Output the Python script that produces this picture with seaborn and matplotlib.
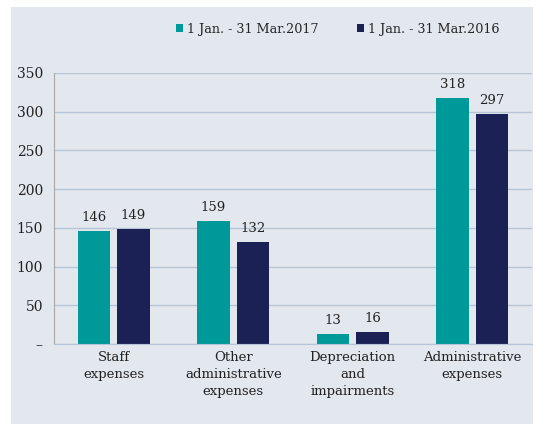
import matplotlib
matplotlib.use("Agg")
import matplotlib.pyplot as plt
import seaborn as sns
import pandas as pd
from matplotlib.patches import Rectangle
from matplotlib.ticker import FuncFormatter

categories = ["Staff\nexpenses", "Other\nadministrative\nexpenses",
              "Depreciation\nand\nimpairments", "Administrative\nexpenses"]
series_names = ["1 Jan. - 31 Mar.2017", "1 Jan. - 31 Mar.2016"]
values_2017 = [146, 159, 13, 318]
values_2016 = [149, 132, 16, 297]
yticks = [0, 50, 100, 150, 200, 250, 300, 350]

df = pd.DataFrame({
    "category": categories * 2,
    "series": [series_names[0]] * 4 + [series_names[1]] * 4,
    "value": values_2017 + values_2016,
})

sns.set_style("white")
plt.rcParams["font.family"] = ["DejaVu Serif"]

panel = "#e3e8ef"
W, H = 541, 433
fig = plt.figure(figsize=(5.41, 4.33), dpi=100, facecolor="white")
bg = Rectangle((11 / W, 1 - 424 / H), (533 - 11) / W, (424 - 7) / H,
               transform=fig.transFigure, facecolor=panel, edgecolor="none", zorder=-10)
fig.add_artist(bg)
ax = fig.add_axes([54 / W, 1 - 344 / H, (532 - 54) / W, (344 - 73) / H])
ax.set_facecolor(panel)

sns.barplot(data=df, x="category", y="value", hue="series",
            palette=["#009999", "#1b2155"], width=0.66, gap=0.165,
            ax=ax, legend=True, saturation=1, linewidth=0)

for cont in ax.containers:
    ax.bar_label(cont, padding=5, fontsize=9.5, color="#222222")

ax.set_xlim(-0.5, 3.5)
ax.set_ylim(0, 350)
ax.set_yticks(yticks)
ax.yaxis.set_major_formatter(FuncFormatter(lambda v, p: "–" if v == 0 else f"{int(v)}"))
ax.grid(axis="y", color="#b6c5d5", linewidth=1)
ax.set_axisbelow(True)
for s in ["top", "right"]:
    ax.spines[s].set_visible(False)
ax.spines["left"].set_color("#a8a8a8")
ax.spines["bottom"].set_color("#b6c5d5")
ax.tick_params(axis="y", length=4, color="#a8a8a8", labelsize=10, labelcolor="#222222", pad=4)
ax.tick_params(axis="x", length=0, labelsize=9.5, labelcolor="#222222", pad=5)
for lbl in ax.get_xticklabels():
    lbl.set_linespacing(1.4)
ax.set_xlabel("")
ax.set_ylabel("")

ax.legend(loc="center left", bbox_to_anchor=(176 / W, 1 - 29 / H), bbox_transform=fig.transFigure,
          ncol=2, frameon=False, borderpad=0, borderaxespad=0,
          fontsize=9.2, handlelength=0.55, handleheight=0.55, handletextpad=0.3,
          columnspacing=3.0)

fig.savefig("out.png", dpi=100, facecolor="white")
